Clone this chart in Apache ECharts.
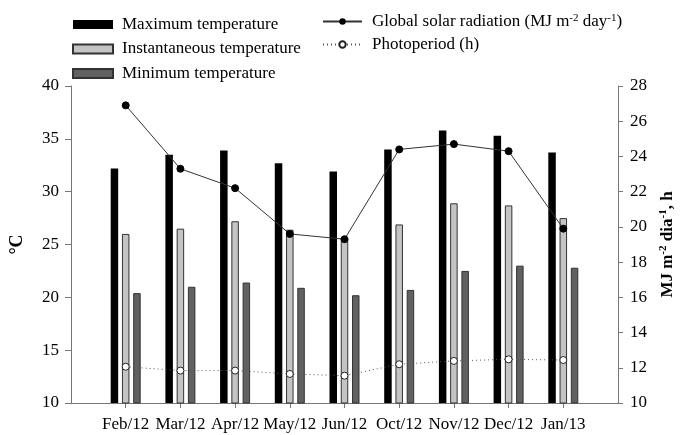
<!DOCTYPE html>
<html>
<head>
<meta charset="utf-8">
<script src="https://cdn.jsdelivr.net/npm/echarts@6/dist/echarts.min.js"></script>
<style>
  html, body { margin: 0; padding: 0; background: #fff; }
  #chart { width: 684px; height: 435px; }
</style>
</head>
<body>
<div id="chart"></div>
<script>
// Monthly categories
const categories = ['Feb/12', 'Mar/12', 'Apr/12', 'May/12', 'Jun/12', 'Oct/12', 'Nov/12', 'Dec/12', 'Jan/13'];

// Temperatures (°C)
const maxTemp  = [32.2, 33.5, 33.9, 32.7, 31.9, 34.0, 35.8, 35.3, 33.7];
const instTemp = [26.0, 26.5, 27.2, 26.4, 25.6, 26.9, 28.9, 28.7, 27.5];
const minTemp  = [20.4, 21.0, 21.4, 20.9, 20.2, 20.7, 22.5, 23.0, 22.8];

// Global solar radiation (MJ m-2 day-1) and photoperiod (h)
const solarRad    = [26.9, 23.3, 22.2, 19.6, 19.3, 24.4, 24.7, 24.3, 19.9];
const photoperiod = [12.06, 11.84, 11.84, 11.65, 11.55, 12.2, 12.39, 12.48, 12.44];

// Axis tick ranges
const leftAxis  = { min: 10, max: 40, interval: 5 };
const rightAxis = { min: 10, max: 28, interval: 2 };

// Pad one empty slot on each side so the months sit inset from the axis ends
const pad = arr => ['-'].concat(arr, ['-']);
const axisData = [''].concat(categories, ['']);
const isMonth = idx => idx > 0 && idx <= categories.length;

const FONT = 'Liberation Serif';
const AXIS_COLOR = '#777';

const chart = echarts.init(document.getElementById('chart'));

const sup = { fontFamily: FONT, fontSize: 11, verticalAlign: 'top', padding: [0, 0, 8, 0], color: '#000' };

chart.setOption({
  animation: false,
  backgroundColor: '#fff',
  textStyle: { fontFamily: FONT },
  grid: { left: 69, right: 61, top: 86, bottom: 32 },
  legend: [
    {
      data: ['Maximum temperature', 'Instantaneous temperature', 'Minimum temperature'],
      orient: 'vertical',
      left: 67,
      top: 11,
      itemWidth: 40,
      itemHeight: 9,
      itemGap: 7.5,
      icon: 'rect',
      textStyle: { fontFamily: FONT, fontSize: 17, lineHeight: 17, color: '#000', padding: [0, 0, 0, 4] }
    },
    {
      data: ['Global solar radiation', 'Photoperiod (h)'],
      orient: 'vertical',
      left: 317,
      top: 8,
      itemWidth: 39,
      itemHeight: 8,
      itemGap: 6,
      formatter: name => name === 'Global solar radiation'
        ? '{t|Global solar radiation (MJ m}{s|-2}{t| day}{s|-1}{t|)}'
        : '{t|' + name + '}',
      textStyle: {
        fontFamily: FONT, fontSize: 17, lineHeight: 17, color: '#000', padding: [0, 0, 0, 5],
        rich: { t: { fontFamily: FONT, fontSize: 17, color: '#000' }, s: sup }
      }
    }
  ],
  xAxis: {
    type: 'category',
    data: axisData,
    boundaryGap: false,
    axisLine: { lineStyle: { color: AXIS_COLOR, width: 1 } },
    axisTick: { interval: (i) => isMonth(i), length: 5, lineStyle: { color: AXIS_COLOR } },
    axisLabel: { interval: (i) => isMonth(i), fontFamily: FONT, fontSize: 17, color: '#000', margin: 13 },
    splitLine: { show: false }
  },
  yAxis: [
    {
      type: 'value',
      min: leftAxis.min, max: leftAxis.max, interval: leftAxis.interval,
      name: '°C',
      nameLocation: 'middle',
      nameGap: 45,
      nameRotate: 90,
      nameTextStyle: { fontFamily: FONT, fontSize: 18, fontWeight: 'bold', color: '#000' },
      axisLine: { show: true, lineStyle: { color: AXIS_COLOR, width: 1 } },
      axisTick: { show: true, length: 6, lineStyle: { color: AXIS_COLOR } },
      axisLabel: { fontFamily: FONT, fontSize: 17, color: '#000', margin: 12 },
      splitLine: { show: false }
    },
    {
      type: 'value',
      position: 'right',
      min: rightAxis.min, max: rightAxis.max, interval: rightAxis.interval,
      name: '{t|MJ m}{s|-2}{t| dia}{s|-1}{t|, h}',
      nameLocation: 'middle',
      nameGap: 40,
      nameRotate: 90,
      nameTextStyle: {
        fontFamily: FONT, fontSize: 17, fontWeight: 'bold', color: '#000',
        rich: {
          t: { fontFamily: FONT, fontSize: 17, fontWeight: 'bold', color: '#000' },
          s: Object.assign({}, sup, { fontWeight: 'bold' })
        }
      },
      axisLine: { show: true, lineStyle: { color: AXIS_COLOR, width: 1 } },
      axisTick: { show: true, length: 5, lineStyle: { color: AXIS_COLOR } },
      axisLabel: { fontFamily: FONT, fontSize: 17, color: '#000', margin: 12 },
      splitLine: { show: false }
    }
  ],
  series: [
    {
      name: 'Maximum temperature',
      type: 'bar',
      data: pad(maxTemp),
      barWidth: 7.5,
      barGap: '50%',
      itemStyle: { color: '#000' }
    },
    {
      name: 'Instantaneous temperature',
      type: 'bar',
      data: pad(instTemp),
      barWidth: 7.5,
      barGap: '50%',
      itemStyle: { color: '#c4c4c4', borderColor: '#333', borderWidth: 1 }
    },
    {
      name: 'Minimum temperature',
      type: 'bar',
      data: pad(minTemp),
      barWidth: 7.5,
      barGap: '50%',
      itemStyle: { color: '#616161', borderColor: '#333', borderWidth: 1 }
    },
    {
      name: 'Global solar radiation',
      type: 'line',
      yAxisIndex: 1,
      data: pad(solarRad),
      symbol: 'circle',
      symbolSize: 7,
      lineStyle: { color: '#333', width: 1 },
      itemStyle: { color: '#000', borderColor: '#000' },
      z: 5
    },
    {
      name: 'Photoperiod (h)',
      type: 'line',
      yAxisIndex: 1,
      data: pad(photoperiod),
      symbol: 'circle',
      symbolSize: 7,
      lineStyle: { color: '#555', width: 1, type: [1, 3] },
      itemStyle: { color: '#fff', borderColor: '#222', borderWidth: 1 },
      z: 5
    }
  ]
});
</script>
</body>
</html>
